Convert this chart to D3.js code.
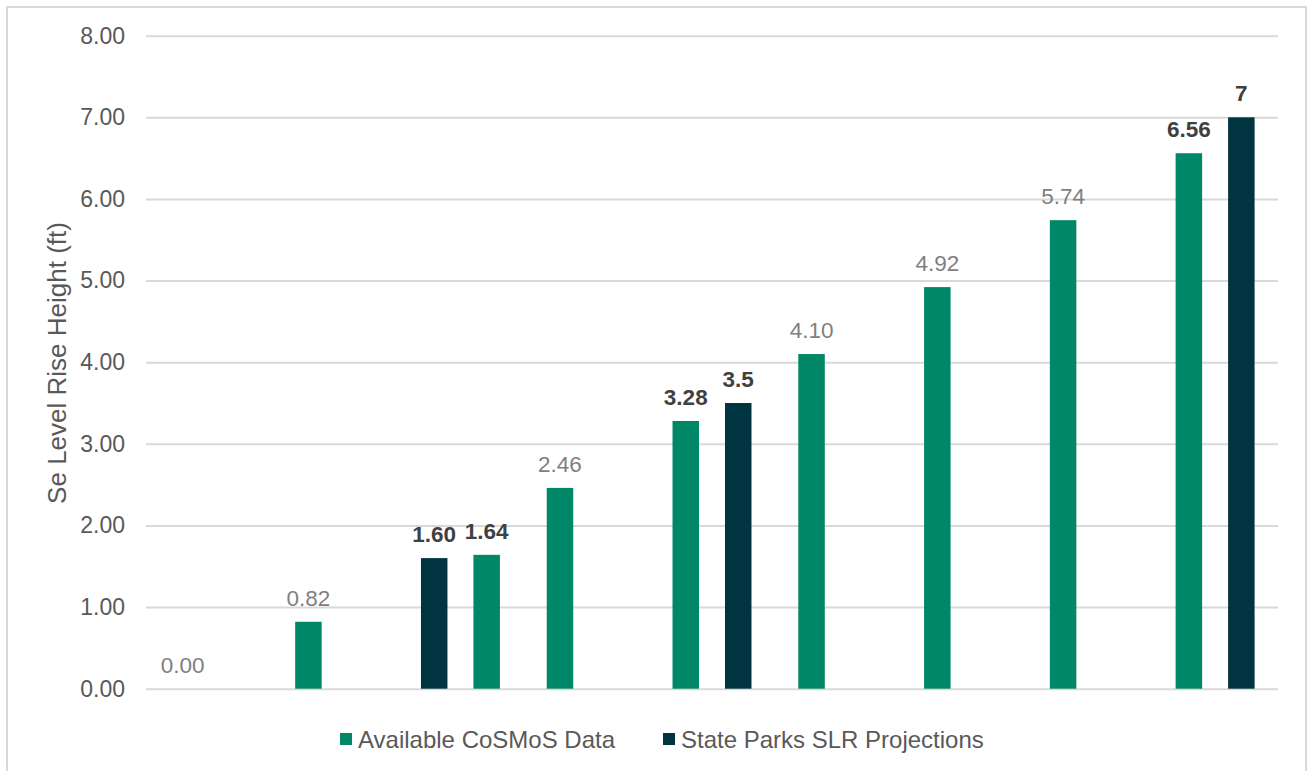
<!DOCTYPE html>
<html>
<head>
<meta charset="utf-8">
<script src="https://cdn.jsdelivr.net/npm/d3@7"></script>
<style>
  body { margin: 0; background: #fff; }
  svg { display: block; font-family: "Liberation Sans", Arial, sans-serif; }
</style>
</head>
<body>
<div id="chart"></div>
<script>
// categories have no visible labels, just positions along the x axis
const categories = [0, 1, 2, 3, 4, 5, 6, 7, 8];
const slots = ['left', 'right'];

// Available CoSMoS data, one per category
const cosmosValues = [0.00, 0.82, 1.64, 2.46, 3.28, 4.10, 4.92, 5.74, 6.56];
const cosmosSlots = ['left', 'left', 'right', 'left', 'left', 'left', 'left', 'left', 'left'];

// State Parks SLR projections
const parksCategories = [2, 4, 8];
const parksValues = [1.60, 3.5, 7];
const parksLabels = ['1.60', '3.5', '7'];
const parksSlots = ['left', 'right', 'right'];

const yTicks = [0, 1, 2, 3, 4, 5, 6, 7, 8];

const seriesNames = ['Available CoSMoS Data', 'State Parks SLR Projections'];
const seriesColors = ['#008767', '#003440'];

const width = 1307, height = 771;
const plot = { left: 146, right: 1278, top: 35.7, bottom: 688.7 };

const svg = d3.select('#chart').append('svg')
  .attr('width', width)
  .attr('height', height);

// chart frame
svg.append('rect')
  .attr('x', 7).attr('y', 7)
  .attr('width', 1299).attr('height', 800)
  .attr('fill', 'none')
  .attr('stroke', '#d9d9d9')
  .attr('stroke-width', 2);

const x = d3.scaleBand().domain(categories).range([plot.left, plot.right]).padding(0);
const xs = d3.scaleBand().domain(slots).range([0, x.bandwidth()])
  .paddingInner(0.495).paddingOuter(0.446);
const y = d3.scaleLinear().domain([0, 8]).range([plot.bottom, plot.top]);

// gridlines + tick labels
const yAxis = svg.append('g')
  .attr('transform', `translate(${plot.left},0)`)
  .call(d3.axisLeft(y).tickValues(yTicks).tickFormat(d3.format('.2f'))
    .tickSize(-(plot.right - plot.left)).tickPadding(21));
yAxis.select('.domain').remove();
yAxis.selectAll('.tick line').attr('stroke', '#d9d9d9').attr('stroke-width', 2);
yAxis.selectAll('.tick text')
  .attr('fill', '#595959')
  .style('font-size', '23px');

svg.append('text')
  .attr('transform', `translate(66,363) rotate(-90)`)
  .attr('text-anchor', 'middle')
  .attr('fill', '#595959')
  .style('font-size', '26px')
  .text('Se Level Rise Height (ft)');

const cosmos = categories.map((c, i) => ({
  cat: c, value: cosmosValues[i], slot: cosmosSlots[i],
  label: d3.format('.2f')(cosmosValues[i]),
  bold: parksCategories.includes(c), series: 0
}));
const parks = parksCategories.map((c, i) => ({
  cat: c, value: parksValues[i], slot: parksSlots[i],
  label: parksLabels[i], bold: true, series: 1
}));
const bars = cosmos.concat(parks);

svg.append('g').selectAll('rect')
  .data(bars)
  .join('rect')
  .attr('x', d => x(d.cat) + xs(d.slot))
  .attr('y', d => y(d.value))
  .attr('width', xs.bandwidth())
  .attr('height', d => y(0) - y(d.value))
  .attr('fill', d => seriesColors[d.series]);

svg.append('g').selectAll('text')
  .data(bars)
  .join('text')
  .attr('x', d => x(d.cat) + xs(d.slot) + xs.bandwidth() / 2)
  .attr('y', d => y(d.value) - 16)
  .attr('text-anchor', 'middle')
  .attr('fill', d => d.bold ? '#404040' : '#7f7f7f')
  .style('font-size', '22.5px')
  .style('font-weight', d => d.bold ? 'bold' : 'normal')
  .text(d => d.label);

// legend
const legendX = [340, 663];
const legend = svg.append('g').selectAll('g')
  .data(seriesNames)
  .join('g')
  .attr('transform', (d, i) => `translate(${legendX[i]},733)`);
legend.append('rect')
  .attr('width', 12).attr('height', 12)
  .attr('fill', (d, i) => seriesColors[i]);
legend.append('text')
  .attr('x', 18).attr('y', 14.5)
  .attr('fill', '#595959')
  .style('font-size', '24px')
  .text(d => d);
</script>
</body>
</html>
